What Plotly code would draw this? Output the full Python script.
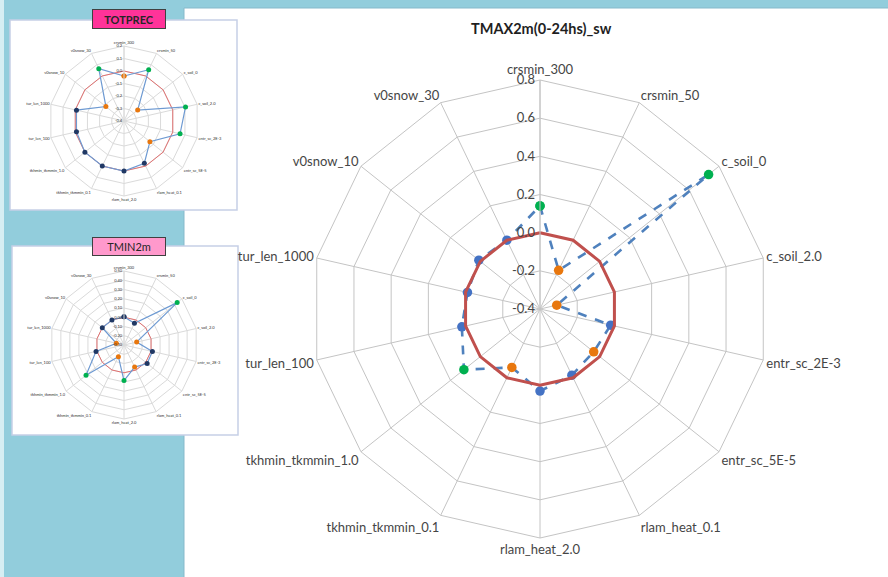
import plotly.graph_objects as go

# --- data -------------------------------------------------------------------
categories = [
    "crsmin_300", "crsmin_50", "c_soil_0", "c_soil_2.0", "entr_sc_2E-3",
    "entr_sc_5E-5", "rlam_heat_0.1", "rlam_heat_2.0", "tkhmin_tkmmin_0.1",
    "tkhmin_tkmmin_1.0", "tur_len_100", "tur_len_1000", "v0snow_10", "v0snow_30",
]

# main chart: TMAX2m(0-24hs)_sw
tmax_sw = [0.14, -0.175, 0.73, -0.31, -0.02, -0.04, -0.015, 0.03,
           -0.06, 0.11, 0.02, -0.01, 0.01, 0.0]
tmax_kind = ["hi", "lo", "hi", "lo", "mid", "lo", "mid", "mid",
             "lo", "hi", "mid", "mid", "mid", "mid"]
tmax_ref = [0.0] * 14
tmax_ticks = [-0.4, -0.2, 0.0, 0.2, 0.4, 0.6, 0.8]

# small chart: TOTPREC
totprec_vals = [-0.04, 0.055, -0.26, 0.105, 0.06, -0.135, -0.025, 0.0,
                0.0, 0.0, -0.01, -0.01, -0.215, 0.065]
totprec_kind = ["lo", "hi", "lo", "hi", "hi", "lo", "mid", "mid",
                "mid", "mid", "mid", "mid", "lo", "hi"]
totprec_ref = [0.0] * 14
totprec_ticks = [-0.4, -0.3, -0.2, -0.1, 0.0, 0.1, 0.2]

# small chart: TMIN2m
tmin_vals = [0.005, -0.04, 0.435, -0.16, 0.015, 0.02, -0.035, 0.085,
             -0.16, 0.225, 0.01, -0.215, 0.0, 0.0]
tmin_kind = ["mid", "mid", "hi", "lo", "mid", "mid", "lo", "hi",
             "lo", "hi", "mid", "lo", "mid", "mid"]
tmin_ref = [0.0] * 14
tmin_ticks = [-0.3, -0.2, -0.1, 0.0, 0.1, 0.2, 0.3, 0.4, 0.5]

# --- styling ----------------------------------------------------------------
W, H = 888, 577
SKY = "#92CDDC"
GRID = "#C4C4C4"
SMALL_GRID = "#DADADA"
LINE_BLUE = "#4F81BD"
REF_RED = "#C0504D"
MAIN_MARK = {"hi": "#00B050", "lo": "#E8770E", "mid": "#4472C4"}
SMALL_MARK = {"hi": "#00B050", "lo": "#E8770E", "mid": "#203864"}
FONT = "Lato"
TEXT = "#454545"


def fx(px):
    return px / W


def fy(py):
    return 1 - py / H


def closed(seq):
    return list(seq) + [seq[0]]


def polar_domain(cx, cy, r):
    return dict(x=[fx(cx - r), fx(cx + r)], y=[fy(cy + r), fy(cy - r)])


# Plotly's polygon grid hides markers when the radial range starts below
# zero, so each radar is drawn on a zero-based radius measured from the
# innermost tick, with the ticks relabelled to the real values.
def from_base(vals, ticks):
    return [v - ticks[0] for v in vals]


fig = go.Figure()

# main radar
fig.add_trace(go.Scatterpolar(
    r=closed(from_base(tmax_sw, tmax_ticks)), theta=closed(categories),
    subplot="polar", mode="lines+markers",
    line=dict(color=LINE_BLUE, width=2.6, dash="dash"),
    marker=dict(size=9.5, color=closed([MAIN_MARK[k] for k in tmax_kind])),
    showlegend=False, hoverinfo="skip",
))
fig.add_trace(go.Scatterpolar(
    r=closed(from_base(tmax_ref, tmax_ticks)), theta=closed(categories),
    subplot="polar", mode="lines", line=dict(color=REF_RED, width=3),
    showlegend=False, hoverinfo="skip",
))

# small radars
for name, vals, kinds, ref, ticks in [
    ("polar2", totprec_vals, totprec_kind, totprec_ref, totprec_ticks),
    ("polar3", tmin_vals, tmin_kind, tmin_ref, tmin_ticks),
]:
    fig.add_trace(go.Scatterpolar(
        r=closed(from_base(ref, ticks)), theta=closed(categories),
        subplot=name, mode="lines", line=dict(color="#E07070", width=1),
        showlegend=False, hoverinfo="skip",
    ))
    fig.add_trace(go.Scatterpolar(
        r=closed(from_base(vals, ticks)), theta=closed(categories),
        subplot=name, mode="lines+markers",
        line=dict(color="#6E9AD2", width=1.2),
        marker=dict(size=5, color=closed([SMALL_MARK[k] for k in kinds])),
        showlegend=False, hoverinfo="skip",
    ))


def angular(size, color, grid):
    return dict(
        categoryorder="array", categoryarray=categories,
        direction="clockwise", rotation=90,
        showline=True, linecolor=grid, linewidth=1,
        gridcolor=grid, gridwidth=1, ticks="",
        tickfont=dict(family=FONT, size=size, color=color),
    )


def radial(ticks, fmt, size, color, grid):
    return dict(
        range=[0, ticks[-1] - ticks[0]],
        tickmode="array",
        tickvals=from_base(ticks, ticks),
        ticktext=[fmt.format(t + 0.0) for t in ticks],
        angle=90, side="counterclockwise", tickangle=90,
        showline=True, linecolor=grid, linewidth=1,
        gridcolor=grid, gridwidth=1, ticks="",
        tickfont=dict(family=FONT, size=size, color=color),
    )


fig.update_layout(
    width=W, height=H,
    margin=dict(l=0, r=0, t=0, b=0),
    paper_bgcolor=SKY, plot_bgcolor=SKY,
    polar=dict(
        domain=polar_domain(540, 309, 229),
        bgcolor="rgba(0,0,0,0)", gridshape="linear",
        angularaxis=angular(13, TEXT, GRID),
        radialaxis=radial(tmax_ticks, "{:.1f}", 13, TEXT, GRID),
    ),
    polar2=dict(
        domain=polar_domain(124, 121, 75),
        bgcolor="rgba(0,0,0,0)", gridshape="linear",
        angularaxis=angular(4, "#303030", SMALL_GRID),
        radialaxis=radial(totprec_ticks, "{:.1f}", 4, "#303030", SMALL_GRID),
    ),
    polar3=dict(
        domain=polar_domain(124, 345, 74),
        bgcolor="rgba(0,0,0,0)", gridshape="linear",
        angularaxis=angular(4, "#303030", SMALL_GRID),
        radialaxis=radial(tmin_ticks, "{:.2f}", 4, "#303030", SMALL_GRID),
    ),
)

# sheet background panels
shapes = [
    dict(type="rect", xref="paper", yref="paper", layer="below",
         x0=fx(0), x1=fx(4), y0=fy(577), y1=fy(0),
         fillcolor="#D6EEF3", line=dict(width=0)),
    dict(type="rect", xref="paper", yref="paper", layer="below",
         x0=fx(184), x1=fx(889), y0=fy(578), y1=fy(8),
         fillcolor="white", line=dict(color="#86B9CB", width=1)),
    dict(type="rect", xref="paper", yref="paper", layer="below",
         x0=fx(10), x1=fx(237), y0=fy(210), y1=fy(20),
         fillcolor="white", line=dict(color="#C6D0E6", width=1.5)),
    dict(type="rect", xref="paper", yref="paper", layer="below",
         x0=fx(12), x1=fx(238), y0=fy(435), y1=fy(246),
         fillcolor="white", line=dict(color="#C6D0E6", width=1.5)),
]
fig.update_layout(shapes=shapes)

annotations = [
    dict(text="<b>TMAX2m(0-24hs)_sw</b>", x=fx(541), y=fy(28),
         xref="paper", yref="paper", showarrow=False,
         xanchor="center", yanchor="middle",
         font=dict(family=FONT, size=14.5, color="#1F1F1F")),
    dict(text="<b>TOTPREC</b>", x=fx(129), y=fy(19),
         xref="paper", yref="paper", showarrow=False,
         xanchor="center", yanchor="middle",
         width=72, height=18, borderpad=0, borderwidth=1,
         bgcolor="#FF3399", bordercolor="#404040",
         font=dict(family=FONT, size=11, color="#262626")),
    dict(text="TMIN2m", x=fx(129), y=fy(247),
         xref="paper", yref="paper", showarrow=False,
         xanchor="center", yanchor="middle",
         width=72, height=17, borderpad=0, borderwidth=1,
         bgcolor="#FF99CC", bordercolor="#404040",
         font=dict(family=FONT, size=11, color="#262626")),
]
fig.update_layout(annotations=annotations)

fig.write_html("out.html")
